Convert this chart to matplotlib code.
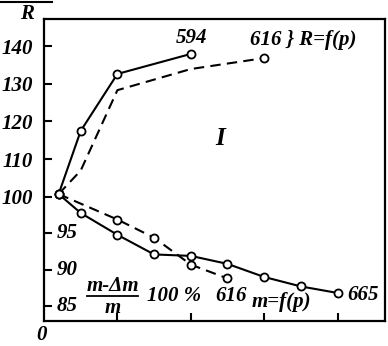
import matplotlib
matplotlib.use("Agg")
import matplotlib.pyplot as plt
from matplotlib.lines import Line2D

# ---- data ----
x_R_solid = [0.2, 0.5, 1.0, 2.0]
R_solid = [100.8, 117.5, 132.6, 137.9]          # 594
x_R_dash = [0.2, 0.5, 1.0, 2.0, 3.0]
R_dash = [100.8, 107.0, 128.3, 133.9, 136.8]     # 616

x_m_solid = [0.2, 0.5, 1.0, 1.5, 2.0, 2.5, 3.0, 3.5, 4.0]
m_solid = [100.4, 97.8, 94.8, 92.1, 91.9, 90.8, 89.0, 87.7, 86.8]   # 665
x_m_dash = [0.2, 1.0, 1.5, 2.0, 2.5]
m_dash = [100.4, 96.9, 94.4, 90.7, 88.8]         # 616

R_ticks = [140, 130, 120, 110, 100]
m_ticks = [95, 90, 85]
x_ticks = [1, 2, 3, 4]

# m is drawn on the same axis as R, with its own scale (100 shared)
M_SCALE = 1.926
def m_to_axis(v):
    return 100 + M_SCALE * (v - 100)

W, H = 388, 346
fig = plt.figure(figsize=(W / 100, H / 100), dpi=100)
ax = fig.add_axes([44 / W, 1 - 321 / H, (385 - 44) / W, (321 - 19) / H])

FONT = dict(family="Liberation Serif", weight="bold", style="italic")
FS = 15

lw = 1.5
mk = dict(marker="o", markersize=5.8, markerfacecolor="white",
          markeredgecolor="black", markeredgewidth=1.3)

ax.plot(x_R_solid, R_solid, color="black", lw=lw, **mk, zorder=3)
ax.plot(x_R_dash, R_dash, color="black", lw=lw, dashes=(5, 3),
        markevery=[len(x_R_dash) - 1], **mk, zorder=3)
ax.plot(x_m_solid, [m_to_axis(v) for v in m_solid], color="black", lw=lw, **mk, zorder=3)
ax.plot(x_m_dash, [m_to_axis(v) for v in m_dash], color="black", lw=lw,
        dashes=(5, 3), **mk, zorder=3)

ax.set_xlim(-0.0, (385 - 44) / 73.4)
ax.set_ylim(100 - (321 - 197) / 3.775, 100 + (197 - 19) / 3.775)

yt = R_ticks + [m_to_axis(v) for v in m_ticks]
ax.set_yticks(yt)
ax.set_yticklabels([str(v) for v in R_ticks] + [""] * len(m_ticks))
ax.set_xticks(x_ticks)
ax.set_xticklabels([])
ax.tick_params(direction="in", length=6, width=1.5, pad=8, labelsize=FS)
for lab in ax.get_yticklabels():
    lab.set_fontfamily("Liberation Serif")
    lab.set_fontweight("bold")
    lab.set_fontstyle("italic")
for s in ax.spines.values():
    s.set_linewidth(1.6)

def px(x, y):
    return x / W, 1 - y / H

def t(x, y, s, size=FS, ha="center", va="center", **kw):
    fig.text(*px(x, y), s, ha=ha, va=va, fontsize=size, **FONT, **kw)

# m tick labels inside the axes
for v in m_ticks:
    yp = 197 - (m_to_axis(v) - 100) * 3.775
    t(67, yp, str(v))

t(27, 14, "R")
t(42, 335, "0")
t(192, 38, "594")
t(250, 40, "616 } R=f(p)", ha="left")
t(220, 138, "I", size=18)
t(113, 286, "m-Δm")
fig.add_artist(Line2D([87 / W, 138 / W], [1 - 296 / H, 1 - 296 / H], color="black", lw=1.3))
t(113, 308, "m")
t(147, 296, "100 %", ha="left")
t(215, 296, "616", ha="left")
t(252, 302, "m=f(p)", ha="left")
t(347, 295, "665", ha="left")

# stray border line in the top-left corner
fig.add_artist(Line2D([0, 52 / W], [1 - 1.5 / H, 1 - 1.5 / H], color="black", lw=1.5))

fig.savefig("out.png", dpi=100)
